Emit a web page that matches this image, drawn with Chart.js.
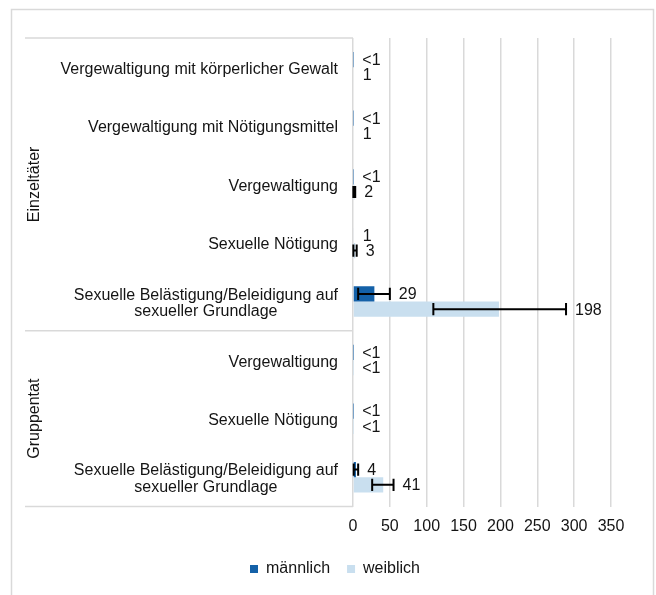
<!DOCTYPE html>
<html>
<head>
<meta charset="utf-8">
<script src="https://cdn.jsdelivr.net/npm/chart.js@4/dist/chart.umd.min.js"></script>
<style>
  html, body { margin: 0; padding: 0; background: #fff; }
  #wrap { width: 656px; height: 595px; }
</style>
</head>
<body>
<div id="wrap"><canvas id="chart" width="656" height="595"></canvas></div>
<script>
// Chart data
const categories = [
    ['Vergewaltigung mit körperlicher Gewalt'],
    ['Vergewaltigung mit Nötigungsmittel'],
    ['Vergewaltigung'],
    ['Sexuelle Nötigung'],
    ['Sexuelle Belästigung/Beleidigung auf', 'sexueller Grundlage'],
    ['Vergewaltigung'],
    ['Sexuelle Nötigung'],
    ['Sexuelle Belästigung/Beleidigung auf', 'sexueller Grundlage']
];
const groupNames = ['Einzeltäter', 'Gruppentat'];
const groupSizes = [5, 3];

const maleValues = [0.4, 0.4, 0.4, 1, 29, 0.3, 0.3, 4];
const femaleValues = [1, 1, 2, 3, 198, 0.3, 0.3, 41];
const maleLabels = ['<1', '<1', '<1', '1', '29', '<1', '<1', '4'];
const femaleLabels = ['1', '1', '2', '3', '198', '<1', '<1', '41'];

// Error bar ranges (null = no error bar)
const maleErrLow = [null, null, null, null, 7, null, null, 1];
const maleErrHigh = [null, null, null, null, 50, null, null, 7];
const femaleErrLow = [null, null, 0.5, 0.5, 109, null, null, 26];
const femaleErrHigh = [null, null, 3, 5, 289, null, null, 55];

const xTicks = [0, 50, 100, 150, 200, 250, 300, 350];

const FONT = '"Liberation Sans", Arial, sans-serif';
const FONT_SIZE = 16;
const TEXT = '#141414';
const GRID = '#d9d9d9';

const errLows = [maleErrLow, femaleErrLow];
const errHighs = [maleErrHigh, femaleErrHigh];
const valueLabels = [maleLabels, femaleLabels];

// Draws border, category table, error bars and value labels
const decorPlugin = {
    id: 'decor',
    beforeDraw(chart) {
        const ctx = chart.ctx;
        ctx.save();
        ctx.strokeStyle = GRID;
        ctx.lineWidth = 1.5;
        ctx.strokeRect(11.5, 9.5, 642, 600);
        ctx.restore();
    },
    afterDatasetsDraw(chart) {
        const ctx = chart.ctx;
        const xs = chart.scales.x;
        ctx.save();
        chart.data.datasets.forEach(function(ds, di) {
            const meta = chart.getDatasetMeta(di);
            meta.data.forEach(function(bar, i) {
                let end = bar.x;
                const lo = errLows[di][i];
                const hi = errHighs[di][i];
                if (lo !== null && hi !== null) {
                    const x1 = xs.getPixelForValue(lo);
                    const x2 = xs.getPixelForValue(hi);
                    const cap = bar.height * 0.4;
                    ctx.strokeStyle = '#000';
                    ctx.lineWidth = 2;
                    ctx.beginPath();
                    ctx.moveTo(x1, bar.y);
                    ctx.lineTo(x2, bar.y);
                    ctx.moveTo(x1, bar.y - cap);
                    ctx.lineTo(x1, bar.y + cap);
                    ctx.moveTo(x2, bar.y - cap);
                    ctx.lineTo(x2, bar.y + cap);
                    ctx.stroke();
                    end = Math.max(end, x2);
                }
                ctx.fillStyle = TEXT;
                ctx.font = FONT_SIZE + 'px ' + FONT;
                ctx.textAlign = 'left';
                ctx.textBaseline = 'middle';
                ctx.fillText(valueLabels[di][i], end + 9, bar.y + 1);
            });
        });
        ctx.restore();
    },
    afterDraw(chart) {
        const ctx = chart.ctx;
        const ys = chart.scales.y;
        const area = chart.chartArea;
        const tableLeft = 25;
        ctx.save();
        // category labels, lines centred as a right-aligned block
        ctx.font = FONT_SIZE + 'px ' + FONT;
        ctx.fillStyle = TEXT;
        ctx.textBaseline = 'middle';
        ctx.textAlign = 'center';
        const lineH = 16.5;
        categories.forEach(function(lines, i) {
            const y = ys.getPixelForValue(i);
            const w = Math.max.apply(null, lines.map(function(t) { return ctx.measureText(t).width; }));
            const cx = area.left - 15 - w / 2;
            lines.forEach(function(t, k) {
                ctx.fillText(t, cx, y + 2 + (k - (lines.length - 1) / 2) * lineH);
            });
        });
        // table lines
        ctx.strokeStyle = GRID;
        ctx.lineWidth = 1.5;
        const bounds = [area.top];
        let idx = 0;
        groupSizes.forEach(function(n) {
            idx += n;
            if (idx < categories.length) {
                bounds.push((ys.getPixelForValue(idx - 1) + ys.getPixelForValue(idx)) / 2);
            }
        });
        bounds.push(area.bottom);
        bounds.forEach(function(b) {
            ctx.beginPath();
            ctx.moveTo(tableLeft, b);
            ctx.lineTo(area.left, b);
            ctx.stroke();
        });
        // group labels
        groupNames.forEach(function(name, g) {
            const cy = (bounds[g] + bounds[g + 1]) / 2;
            ctx.save();
            ctx.translate(35, cy);
            ctx.rotate(-Math.PI / 2);
            ctx.textAlign = 'center';
            ctx.textBaseline = 'middle';
            ctx.fillText(name, 0, 0);
            ctx.restore();
        });
        ctx.restore();
    }
};

const chart = new Chart(document.getElementById('chart'), {
    type: 'bar',
    data: {
        labels: categories,
        datasets: [
            {
                label: 'männlich',
                data: maleValues,
                backgroundColor: '#1461a8',
                barPercentage: 1,
                categoryPercentage: 0.52
            },
            {
                label: 'weiblich',
                data: femaleValues,
                backgroundColor: '#c9dfef',
                barPercentage: 1,
                categoryPercentage: 0.52
            }
        ]
    },
    options: {
        indexAxis: 'y',
        responsive: false,
        animation: false,
        layout: { padding: { top: 38, right: 0, left: 14, bottom: 8 } },
        scales: {
            x: {
                min: 0,
                max: 350,
                afterBuildTicks(scale) {
                    scale.ticks = xTicks.map(function(v) { return { value: v }; });
                },
                afterFit(scale) { scale.height = 37.5; },
                grid: { color: GRID, lineWidth: 1.5, drawTicks: false },
                border: { display: false },
                ticks: {
                    padding: 10,
                    color: TEXT,
                    font: { family: FONT, size: FONT_SIZE }
                }
            },
            y: {
                afterFit(scale) { scale.width = 339; },
                grid: { display: false },
                border: { display: false },
                ticks: { display: false }
            },
            // empty right-hand spacer so the plot ends at 350
            spacer: {
                type: 'linear',
                position: 'right',
                afterFit(scale) { scale.width = 45; },
                grid: { display: false },
                border: { display: false },
                ticks: { display: false }
            }
        },
        plugins: {
            legend: {
                position: 'bottom',
                labels: {
                    boxWidth: 8,
                    boxHeight: 8,
                    padding: 17,
                    color: TEXT,
                    font: { family: FONT, size: FONT_SIZE }
                }
            },
            tooltip: { enabled: false }
        }
    },
    plugins: [decorPlugin]
});
</script>
</body>
</html>
